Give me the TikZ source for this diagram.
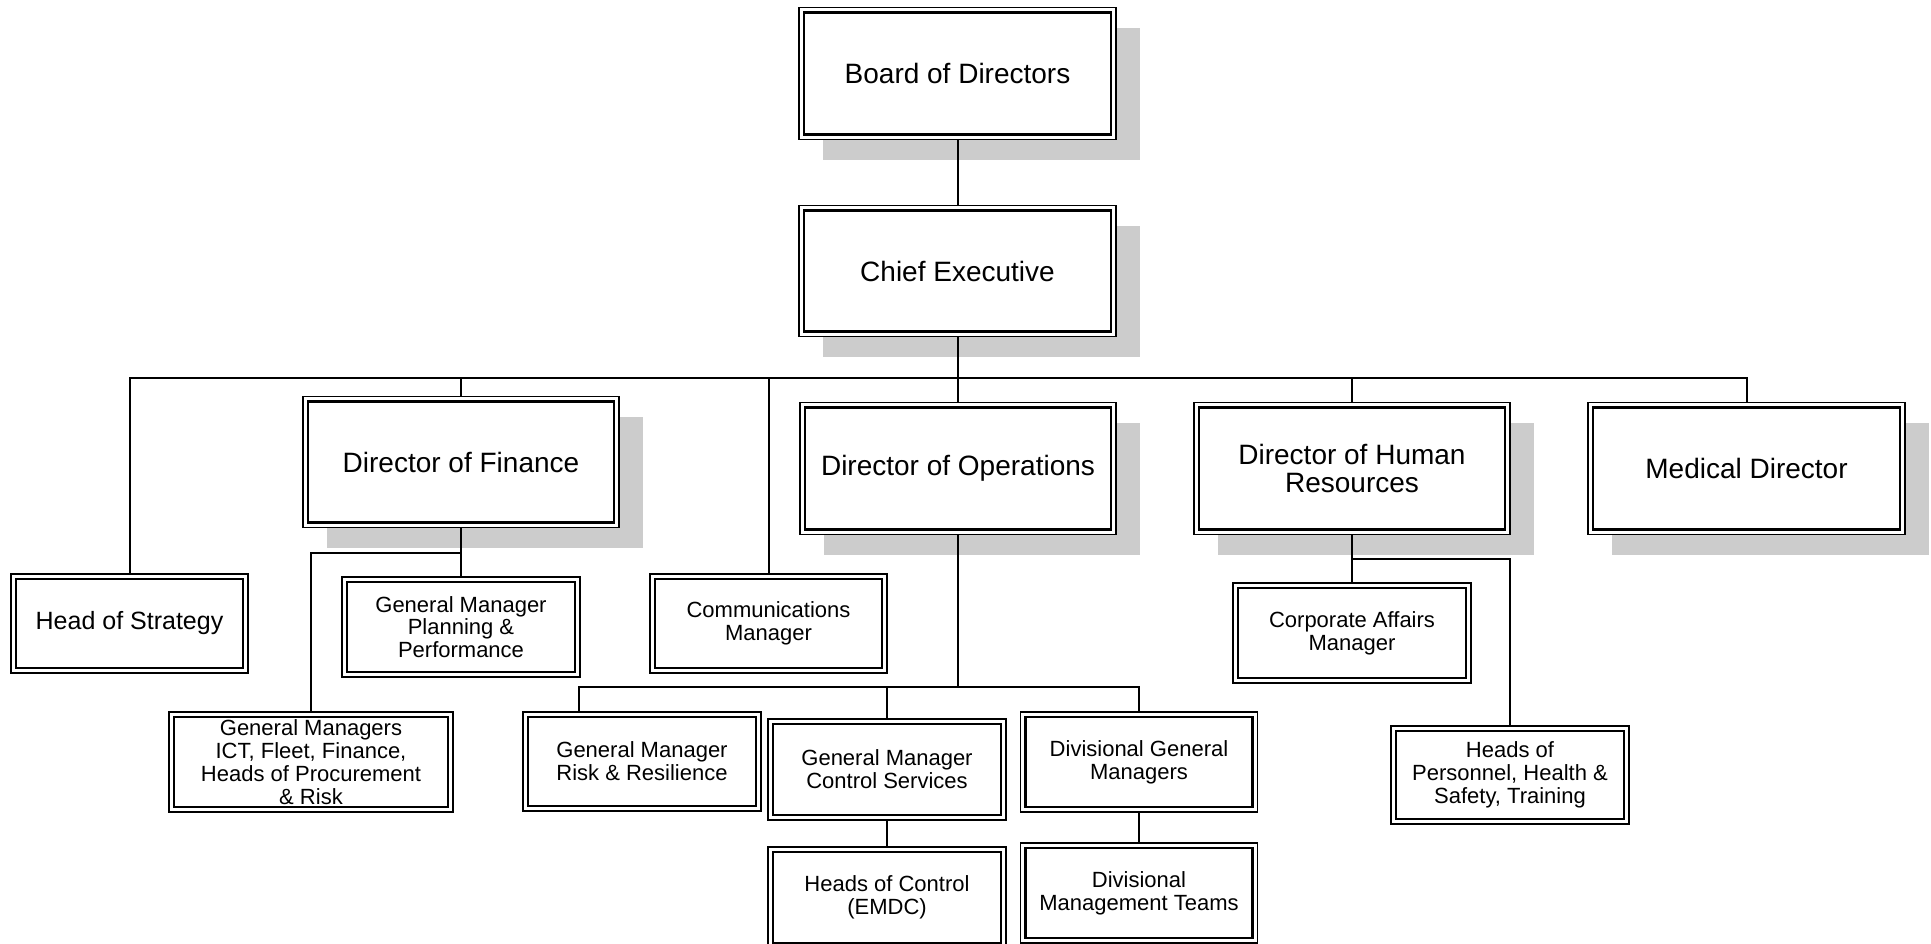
\documentclass[tikz,border=0pt]{standalone}
\usepackage{fontspec}
\setmainfont{Liberation Sans}
\usetikzlibrary{backgrounds}
\definecolor{shadowgray}{HTML}{CCCCCC}
\tikzset{
  obox/.style={draw=black, line width=1.5pt, fill=white, rectangle, inner sep=0pt, outer sep=0pt, align=center, text=black},
  ibox/.style={draw=black, line width=2.4pt},
  conn/.style={draw=black, line width=2pt},
  bigtxt/.style={font=\fontsize{28}{28.5}\selectfont},
  midtxt/.style={font=\fontsize{25}{26}\selectfont},
  smalltxt/.style={font=\fontsize{22}{22.8}\selectfont},
}
\newcommand{\orgbox}[7][]{%
  \node[obox, minimum width=#5, minimum height=#6, #1] (#2) at (#3,#4) {#7};
  \draw[ibox] ([shift={(5pt,-5pt)}]#2.north west) rectangle ([shift={(-5pt,5pt)}]#2.south east);
}
\newcommand{\shadowof}[1]{%
  \begin{pgfonlayer}{background}
    \fill[shadowgray] ([shift={(24pt,-20pt)}]#1.north west) rectangle ([shift={(24pt,-20pt)}]#1.south east);
  \end{pgfonlayer}
}
\begin{document}
\begin{tikzpicture}[x=1pt,y=-1pt]
\begin{pgfonlayer}{background}
  \fill[white] (0,0) rectangle (1931,943);
\end{pgfonlayer}
\useasboundingbox (0,0) rectangle (1931,943);

% top level
\orgbox[bigtxt]{board}{957.5}{73.5}{317}{132}{Board of Directors}
\orgbox[bigtxt]{chief}{957.5}{271}{317}{131}{Chief Executive}
\orgbox[bigtxt]{dof}{461}{462}{316}{131}{Director of Finance}
\orgbox[bigtxt]{doo}{958}{468.5}{316}{132}{Director of Operations}
\orgbox[bigtxt]{dhr}{1352}{468.5}{316}{132}{Director of Human\\Resources}
\orgbox[bigtxt]{med}{1746.5}{468.5}{317}{132}{Medical Director}
\shadowof{board}
\shadowof{chief}
\shadowof{dof}
\shadowof{doo}
\shadowof{dhr}
\shadowof{med}

% second level
\orgbox[midtxt]{hos}{129.5}{623.5}{237}{99}{Head of Strategy}
\orgbox[smalltxt]{gmpp}{461}{627}{238}{100}{General Manager\\Planning \&\\Performance}
\orgbox[smalltxt]{comms}{768.5}{623.5}{237}{99}{Communications\\Manager}
\orgbox[smalltxt]{corp}{1352}{633}{238}{100}{Corporate Affairs\\Manager}

% third level
\orgbox[smalltxt]{gmict}{311}{762}{284}{100}{General Managers\\ICT, Fleet, Finance,\\Heads of Procurement\\\& Risk}
\orgbox[smalltxt]{gmrr}{642}{761.5}{238}{99}{General Manager\\Risk \& Resilience}
\orgbox[smalltxt]{gmcs}{887}{769.5}{238}{101}{General Manager\\Control Services}
\orgbox[smalltxt]{divgm}{1139}{762}{237}{100}{Divisional General\\Managers}
\orgbox[smalltxt]{hop}{1510}{775}{238}{98}{Heads of\\Personnel, Health \&\\Safety, Training}

% fourth level
\orgbox[smalltxt]{hoc}{887}{897.5}{238}{101}{Heads of Control\\(EMDC)}
\orgbox[smalltxt]{divmt}{1139}{893}{237}{100}{Divisional\\Management Teams}

% junction coordinates
\coordinate (busL) at (129.5,378);
\coordinate (busR) at (1746.5,378);
\coordinate (finJ) at (461,553);
\coordinate (opsL) at (579,687);
\coordinate (opsR) at (1139,687);
\coordinate (hrJ) at (1352,559);

% connectors
\draw[conn] (board.south) -- (chief.north);
\draw[conn] (chief.south) -- (chief.south |- busL);
\draw[conn] (hos.north) -- (busL) -- (busR) -- (med.north);
\draw[conn] (dof.north) -- (dof.north |- busL);
\draw[conn] (comms.north) -- (comms.north |- busL);
\draw[conn] (doo.north) -- (doo.north |- busL);
\draw[conn] (dhr.north) -- (dhr.north |- busL);

\draw[conn] (dof.south) -- (gmpp.north);
\draw[conn] (finJ) -| (gmict.north);

\draw[conn] (doo.south) -- (doo.south |- opsL);
\draw[conn] (opsL |- gmrr.north) -- (opsL) -- (opsR) -- (divgm.north);
\draw[conn] (gmcs.north) -- (gmcs.north |- opsL);
\draw[conn] (gmcs.south) -- (hoc.north);
\draw[conn] (divgm.south) -- (divmt.north);

\draw[conn] (dhr.south) -- (corp.north);
\draw[conn] (hrJ) -| (hop.north);
\end{tikzpicture}
\end{document}
